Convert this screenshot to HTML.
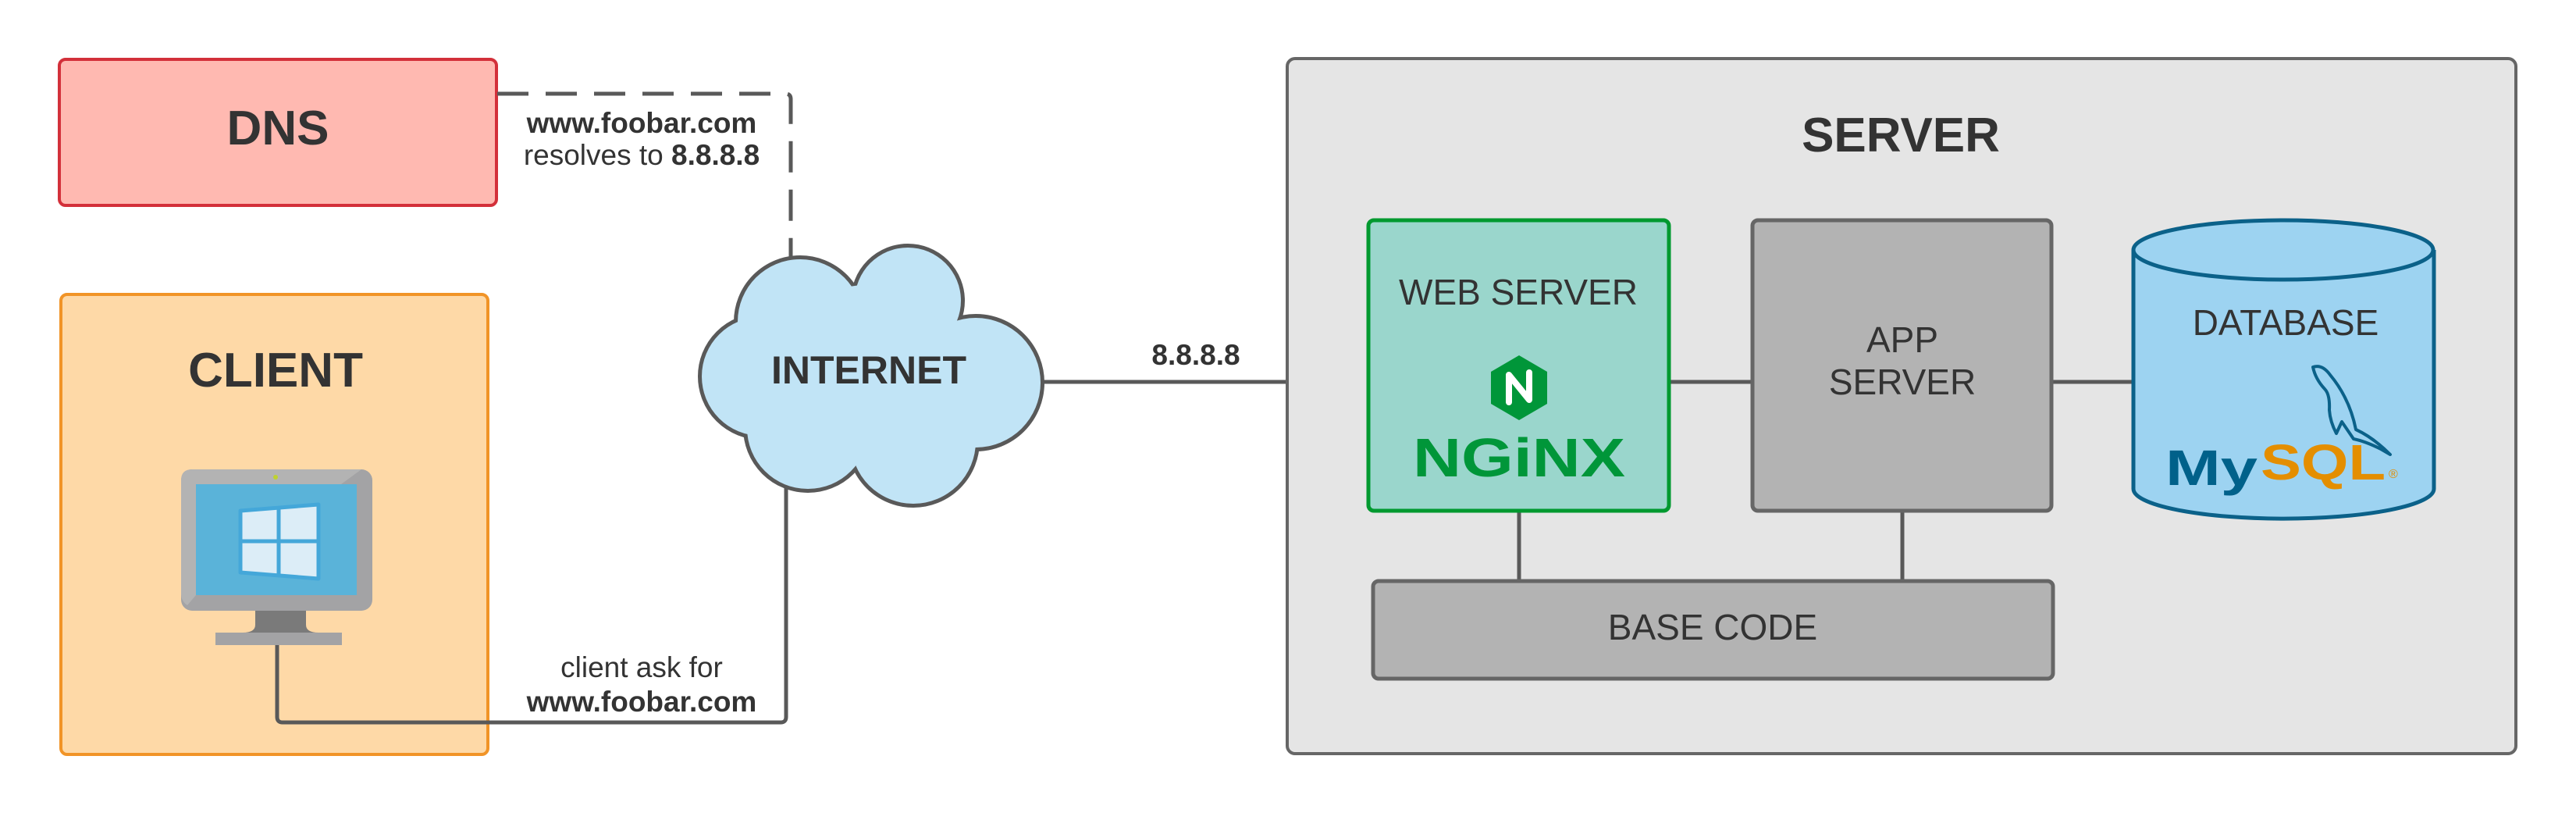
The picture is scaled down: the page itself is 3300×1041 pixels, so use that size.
<!DOCTYPE html>
<html><head><meta charset="utf-8"><style>
html,body{margin:0;padding:0;background:#fff;}
svg{display:block;}
text{font-family:"Liberation Sans",sans-serif;fill:#333;}
</style></head><body>
<svg width="3300" height="1041" viewBox="0 0 3300 1041" xmlns="http://www.w3.org/2000/svg">
<!-- DNS -->
<rect x="76" y="76" width="560" height="187" rx="8" fill="#ffb9b1" stroke="#d3303a" stroke-width="4"/>
<text x="356" y="185" font-size="62" font-weight="bold" text-anchor="middle">DNS</text>
<!-- CLIENT -->
<rect x="78" y="377" width="547" height="589" rx="8" fill="#fed9a7" stroke="#f19427" stroke-width="4"/>
<text x="353" y="495" font-size="62" font-weight="bold" text-anchor="middle">CLIENT</text>
<!-- monitor -->
<rect x="232" y="601" width="245" height="181" rx="14" fill="#a3a3a5"/>
<path d="M246 601 H463 L437 620 H251 V762 L240 775 Q232 770 232 760 V615 Q232 601 246 601Z" fill="#b3b3b3"/>
<rect x="251" y="620" width="206" height="142" fill="#5ab3d9"/>
<circle cx="353" cy="611" r="3" fill="#bfd22f"/>
<path d="M308 654 L408 646 V741 L308 733Z" fill="#dcedf7" stroke="#44a7d9" stroke-width="5" stroke-linejoin="round"/>
<line x1="357" y1="650" x2="357" y2="739" stroke="#44a7d9" stroke-width="5"/>
<line x1="308" y1="693" x2="408" y2="693" stroke="#44a7d9" stroke-width="5"/>
<path d="M327 782 H392 V800 Q392 810 408 810 H311 Q327 810 327 800Z" fill="#7a7a7a"/>
<rect x="276" y="810" width="162" height="16" fill="#a3a3a5"/>
<!-- connectors -->
<path d="M355 826 V918 Q355 925 362 925 H1000 Q1007 925 1007 918 V600" fill="none" stroke="#595959" stroke-width="5"/>
<path d="M637 120 H1006 Q1013 120 1013 127 V335" fill="none" stroke="#595959" stroke-width="5" stroke-dasharray="40,22"/>
<text x="822" y="170" font-size="37" font-weight="bold" text-anchor="middle">www.foobar.com</text>
<text x="822" y="211" font-size="37" text-anchor="middle">resolves to <tspan font-weight="bold">8.8.8.8</tspan></text>
<text x="822" y="867" font-size="37" text-anchor="middle">client ask for</text>
<text x="822" y="911" font-size="37" font-weight="bold" text-anchor="middle">www.foobar.com</text>
<!-- line internet to web -->
<line x1="1320" y1="489" x2="1753" y2="489" stroke="#595959" stroke-width="5"/>
<text x="1532" y="467" font-size="37" font-weight="bold" text-anchor="middle">8.8.8.8</text>
<!-- cloud -->
<g stroke="#595959" stroke-width="10" fill="#595959">
<circle cx="1025" cy="412" r="80"/><circle cx="1163" cy="385" r="68"/><circle cx="1250" cy="490" r="83"/>
<circle cx="1170" cy="565" r="80"/><circle cx="1035" cy="548" r="78"/><circle cx="975" cy="482" r="76"/>
</g>
<g fill="#c1e4f6">
<circle cx="1025" cy="412" r="80"/><circle cx="1163" cy="385" r="68"/><circle cx="1250" cy="490" r="83"/>
<circle cx="1170" cy="565" r="80"/><circle cx="1035" cy="548" r="78"/><circle cx="975" cy="482" r="76"/>
<circle cx="1110" cy="480" r="115"/>
</g>
<text x="1113" y="491" font-size="50" font-weight="bold" text-anchor="middle">INTERNET</text>
<!-- SERVER -->
<rect x="1649" y="75" width="1574" height="890" rx="10" fill="#e5e5e5" stroke="#666" stroke-width="4"/>
<text x="2435" y="194" font-size="62" font-weight="bold" text-anchor="middle">SERVER</text>
<line x1="2138" y1="489" x2="2245" y2="489" stroke="#595959" stroke-width="5"/>
<line x1="2628" y1="489" x2="2733" y2="489" stroke="#595959" stroke-width="5"/>
<line x1="1946" y1="654" x2="1946" y2="744" stroke="#595959" stroke-width="5"/>
<line x1="2437" y1="654" x2="2437" y2="744" stroke="#595959" stroke-width="5"/>
<!-- web server -->
<rect x="1753" y="282" width="385" height="372" rx="7" fill="#9ad6cc" stroke="#00992f" stroke-width="5"/>
<text x="1945" y="390" font-size="46" text-anchor="middle">WEB SERVER</text>
<polygon points="1946,455 1982,476 1982,517 1946,538 1910,517 1910,476" fill="#009639"/>
<path d="M1933 515 V480 L1959 512 V477" fill="none" stroke="#fff" stroke-width="8" stroke-linecap="round" stroke-linejoin="round"/>
<text x="1946" y="610" font-size="70" font-weight="bold" text-anchor="middle" style="fill:#009639" textLength="272" lengthAdjust="spacingAndGlyphs">NGiNX</text>
<!-- app server -->
<rect x="2245" y="282" width="383" height="372" rx="7" fill="#b3b3b3" stroke="#666" stroke-width="5"/>
<text x="2437" y="451" font-size="46" text-anchor="middle">APP</text>
<text x="2437" y="505" font-size="46" text-anchor="middle">SERVER</text>
<!-- database -->
<path d="M2733 320 V626 A192 38 0 0 0 3118 626 V320" fill="#9dd3f1" stroke="#0b6189" stroke-width="5"/>
<ellipse cx="2925" cy="320" rx="192" ry="38" fill="#9dd3f1" stroke="#0b6189" stroke-width="5"/>
<text x="2928" y="429" font-size="46" text-anchor="middle">DATABASE</text>
<path d="M2963 470 Q2975 466 2985 480 Q3010 510 3018 550 Q3040 560 3062 582 L3050 575 Q3030 565 3015 562 L3000 540 L2993 555 Q2985 540 2984 525 Q2985 505 2978 498 Q2966 485 2963 470Z" fill="none" stroke="#0b6189" stroke-width="4" stroke-linejoin="round"/>
<text x="2774" y="621" font-size="64" font-weight="bold" style="fill:#00618a" textLength="118" lengthAdjust="spacingAndGlyphs">My</text>
<text x="2896" y="614" font-size="64" font-weight="bold" style="fill:#e48e00" textLength="160" lengthAdjust="spacingAndGlyphs">SQL</text>
<text x="3060" y="612" font-size="16" style="fill:#e48e00">®</text>
<!-- base code -->
<rect x="1759" y="744" width="871" height="125" rx="7" fill="#b3b3b3" stroke="#666" stroke-width="5"/>
<text x="2194" y="819" font-size="46" text-anchor="middle">BASE CODE</text>
</svg>
</body></html>
